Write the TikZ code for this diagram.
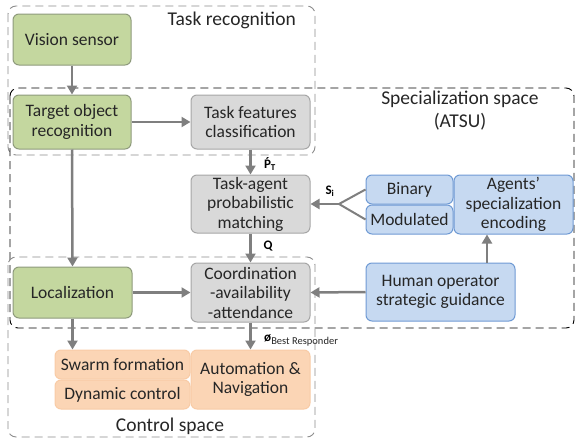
\documentclass[tikz,border=0pt]{standalone}
\usepackage{fontspec}
\setmainfont{Carlito}
\usetikzlibrary{arrows.meta,calc}
\definecolor{gfill}{HTML}{C4D79F}
\definecolor{gline}{HTML}{8E9A7C}
\definecolor{grfill}{HTML}{D9D9D9}
\definecolor{grline}{HTML}{A6A6A6}
\definecolor{bfill}{HTML}{C6D9F1}
\definecolor{bline}{HTML}{6F9AD4}
\definecolor{ofill}{HTML}{FBD5B5}
\definecolor{oline}{HTML}{F8CBA6}
\definecolor{arrc}{HTML}{7F7F7F}
\definecolor{txt}{HTML}{262626}
\tikzset{
  box/.style={rectangle,rounded corners=6pt,line width=1pt,align=center,
    font=\fontsize{17.5}{19.5}\selectfont,text=txt,inner sep=1pt},
  gbox/.style={box,fill=gfill,draw=gline},
  grbox/.style={box,fill=grfill,draw=grline},
  bbox/.style={box,fill=bfill,draw=bline},
  obox/.style={box,fill=ofill,draw=oline},
  arr/.style={draw=arrc,line width=2.5pt,-{Triangle[length=9pt,width=10pt]}},
  fline/.style={draw=arrc,line width=2pt},
  region/.style={rounded corners=8pt,line width=0.9pt,dash pattern=on 8pt off 5pt},
  lbl/.style={font=\fontsize{13}{15}\selectfont\bfseries,text=black,inner sep=0pt},
  ttl/.style={font=\fontsize{19.5}{23}\selectfont,text=txt,align=center,inner sep=0pt}
}
\begin{document}
\begin{tikzpicture}[x=1pt,y=-1pt]
\useasboundingbox (0,0) rectangle (576,439);
% regions
\draw[region,draw=arrc!90] (8,6) rectangle (315,155);
\draw[region,draw=black] (10,88) rectangle (574,328);
\draw[region,draw=arrc!90] (8,257) rectangle (315,437);
\node[ttl,anchor=east] (ttask) at (296,20) {Task recognition};
\node[ttl] (tspec) at (460,111) {Specialization space\\(ATSU)};
\node[ttl] (tctrl) at (170,426) {Control space};
% nodes
\node[gbox,minimum width=118pt,minimum height=51pt] (vision) at (72,39.5) {Vision sensor};
\node[gbox,minimum width=118pt,minimum height=54pt] (target) at (72,122) {Target object\\recognition};
\node[grbox,minimum width=119pt,minimum height=54pt] (feat) at (250.5,122) {Task features\\classification};
\node[grbox,minimum width=119pt,minimum height=58pt] (match) at (250.5,204) {Task-agent\\probabilistic\\matching};
\node[grbox,minimum width=119pt,minimum height=59pt] (coord) at (250.5,292.5) {Coordination\\-availability\\-attendance};
\node[gbox,minimum width=119pt,minimum height=51pt] (loc) at (72.5,292.5) {Localization};
\node[obox,minimum width=135pt,minimum height=29pt] (swarm) at (122.5,364.5) {Swarm formation};
\node[obox,minimum width=135pt,minimum height=29pt] (dyn) at (122.5,394.5) {Dynamic control};
\node[obox,minimum width=119pt,minimum height=59pt] (auto) at (250.5,379.5) {Automation \&\\Navigation};
\node[bbox,minimum width=87pt,minimum height=29pt] (binary) at (409.5,189.5) {Binary};
\node[bbox,minimum width=87pt,minimum height=29pt] (modul) at (409.5,219.5) {Modulated};
\node[bbox,minimum width=119pt,minimum height=59pt] (agents) at (513.5,204.5) {Agents’\\specialization\\encoding};
\node[bbox,minimum width=149pt,minimum height=58pt] (human) at (440.5,292) {Human operator\\strategic guidance};
\coordinate (fork) at (339,204);
% connectors
\draw[arr] (vision.south) -- (target.north);
\draw[arr] (target.east) -- (feat.west);
\draw[arr] (feat.south) -- (match.north);
\draw[arr] (target.south) -- (loc.north);
\draw[arr] (match.south) -- (coord.north);
\draw[arr] (loc.east) -- (coord.west);
\draw[arr] (human.west) -- (coord.east);
\draw[arr] ([xshift=46.5pt]human.north) -- ([xshift=46.5pt]human.north |- agents.south);
\draw[arr] (coord.south) -- (auto.north);
\draw[arr] (loc.south) -- (loc.south |- swarm.north);
\draw[fline] (binary.west) -- (fork) -- (modul.west);
\draw[arr] (fork) -- (fork -| match.east);
% labels
\node[lbl] (lp) at (270,164) {\accent"B4 P\textsubscript{\fontsize{9}{9}\selectfont T}};
\node[lbl] (lq) at (268,246) {Q};
\node[lbl] (ls) at (330,191) {S\textsubscript{\fontsize{9}{9}\selectfont i}};
\node[lbl,anchor=west] (lphi) at (264,340) {ø\textsubscript{\fontsize{10.5}{10.5}\selectfont\mdseries\color{txt}Best Responder}};
\end{tikzpicture}
\end{document}
